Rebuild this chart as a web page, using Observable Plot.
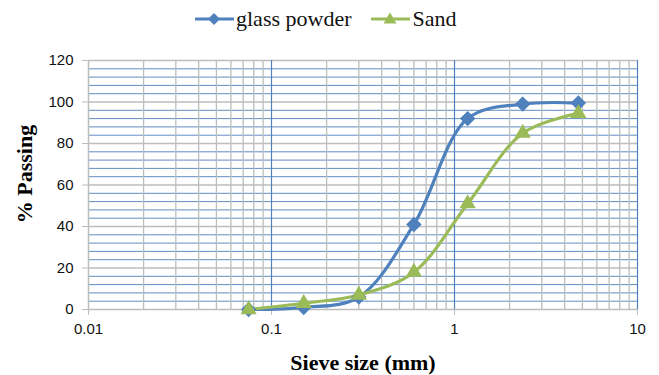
<!DOCTYPE html>
<html><head><meta charset="utf-8">
<script src="https://cdn.jsdelivr.net/npm/d3@7"></script>
<script src="https://cdn.jsdelivr.net/npm/@observablehq/plot@0.6"></script>
<style>
body{margin:0;background:#fff;}
#wrap{position:relative;width:659px;height:375px;}
#legend{position:absolute;top:6px;left:195px;white-space:nowrap;font-family:"Liberation Serif",serif;font-size:22px;color:#111;display:flex;align-items:center;}
#legend span.item{display:inline-flex;align-items:center;}
#legend span.item + span.item{margin-left:20px;}
#legend svg{margin-right:2px;}
.lab{position:absolute;font-family:"Liberation Serif",serif;font-weight:bold;font-size:22px;color:#000;white-space:nowrap;}
</style></head>
<body><div id="wrap"><div id="legend"></div></div>
<script>
const sizes = [0.075, 0.15, 0.3, 0.6, 1.18, 2.36, 4.75];
const glassPowder = [0, 1, 6, 41, 92, 99, 99.5];
const sandValues = [0, 3, 7, 18, 51, 85, 94.5];
const seriesNames = ["glass powder", "Sand"];
const seriesColors = ["#4F81BD", "#9BBB59"];
const xTicks = [0.01, 0.1, 1, 10];
const yTicks = [0, 20, 40, 60, 80, 100, 120];

const data = [];
sizes.forEach((s, i) => data.push({series: seriesNames[0], size: s, pass: glassPowder[i]}));
sizes.forEach((s, i) => data.push({series: seriesNames[1], size: s, pass: sandValues[i]}));

const minorX = [];
for (const d of [0.01, 0.1, 1]) for (let m = 2; m <= 9; m++) minorX.push(+(d * m).toPrecision(3));
const minorY = d3.range(0, 121, 4).filter(v => v % 20 !== 0);
const decadeLines = xTicks.slice(1);

const gray = "#bdbdbd";
const blueGrid = "#4F81BD";

const chart = Plot.plot({
  width: 659, height: 375,
  marginLeft: 88, marginRight: 22, marginTop: 60, marginBottom: 66,
  x: {type: "log", domain: [0.01, 10]},
  y: {domain: [0, 120]},
  style: {fontFamily: "'Liberation Sans', Arial, sans-serif", fontSize: "15px", color: "#111"},
  marks: [
    Plot.ruleY(minorY, {stroke: blueGrid, strokeWidth: 1, strokeOpacity: 0.9}),
    Plot.ruleX(minorX, {stroke: gray, strokeWidth: 1.3}),
    Plot.ruleY(yTicks, {stroke: gray, strokeWidth: 1.3}),
    Plot.ruleX(decadeLines, {stroke: blueGrid, strokeWidth: 1.2}),
    Plot.ruleX([0.01], {stroke: gray, strokeWidth: 1.5}),
    Plot.axisX({ticks: xTicks, tickFormat: d => String(d), tickSize: 6, tickPadding: 8, stroke: gray, label: null}),
    Plot.axisY({ticks: yTicks, tickSize: 6, tickPadding: 9, stroke: gray, label: null}),
    Plot.line(data, {x: "size", y: "pass", z: "series", stroke: "series", strokeWidth: 3.2, curve: "catmull-rom"}),
    Plot.dot(data.filter(d => d.series === seriesNames[0]), {x: "size", y: "pass", symbol: "diamond2", r: 6, fill: seriesColors[0], stroke: seriesColors[0]}),
    Plot.dot(data.filter(d => d.series === seriesNames[1]), {x: "size", y: "pass", symbol: "triangle2", r: 6.5, fill: seriesColors[1], stroke: seriesColors[1]})
  ],
  color: {domain: seriesNames, range: seriesColors}
});
document.getElementById("wrap").appendChild(chart);

// legend
const leg = document.getElementById("legend");
seriesNames.forEach((n, i) => {
  const item = document.createElement("span");
  item.className = "item";
  const sym = i === 0
    ? `<polygon points="19,3 25,9 19,15 13,9" fill="${seriesColors[i]}"/>`
    : `<polygon points="19,2.5 25.5,13.5 12.5,13.5" fill="${seriesColors[i]}"/>`;
  item.innerHTML = `<svg width="39" height="18"><line x1="0" y1="9" x2="39" y2="9" stroke="${seriesColors[i]}" stroke-width="3.2"/>${sym}</svg><span>${n}</span>`;
  leg.appendChild(item);
});

const wrap = document.getElementById("wrap");
const yl = document.createElement("div");
yl.className = "lab"; yl.textContent = "% Passing";
yl.style.left = "25px"; yl.style.top = "174px";
yl.style.transform = "translate(-50%,-50%) rotate(-90deg)";
wrap.appendChild(yl);
const xl = document.createElement("div");
xl.className = "lab"; xl.textContent = "Sieve size (mm)";
xl.style.left = "363px"; xl.style.top = "363px";
xl.style.transform = "translate(-50%,-50%)";
wrap.appendChild(xl);
</script></body></html>
